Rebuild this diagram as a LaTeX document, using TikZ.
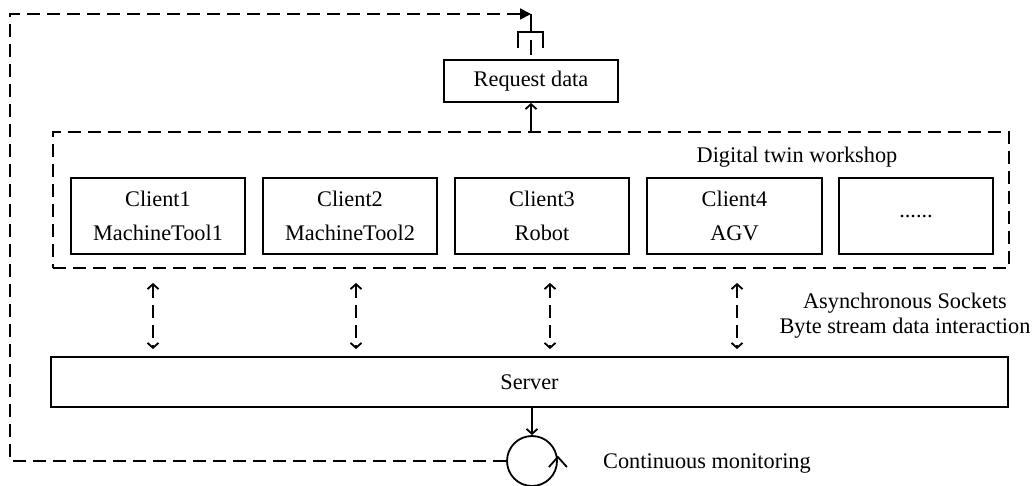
\documentclass[tikz,border=0pt]{standalone}
\usepackage{fontspec}
\setmainfont{Liberation Serif}
\usetikzlibrary{arrows.meta,calc}
\begin{document}
\begin{tikzpicture}[x=1pt,y=-1pt,
  lw/.style={line width=1.8pt},
  txt/.style={font=\fontsize{22.3}{34}\selectfont},
  box/.style={draw, lw, rectangle, inner sep=0pt, txt, align=center},
  dsh/.style={dash pattern=on 13pt off 7pt},
  chev/.style={-{Straight Barb[length=5pt,width=11pt]}},
  dbl/.style={{Straight Barb[length=5pt,width=11pt]}-{Straight Barb[length=5pt,width=11pt]}, lw, dsh},
  fb/.style={-{Triangle[length=11pt,width=11pt]}, lw, dsh}
]
\useasboundingbox (0,0) rectangle (1035,486);

% nodes
\node[box, minimum width=174pt, minimum height=42pt] (req) at (531,81) {Request data};
\node[draw, lw, dsh, rectangle, minimum width=956pt, minimum height=136pt, inner sep=0pt] (dtw) at (531,200) {};
\node[txt, anchor=base, inner sep=0pt] (dtwlbl) at (797,163) {Digital twin workshop};

\node[box, minimum width=174pt, minimum height=76pt] (c1) at (158,216) {Client1\\MachineTool1};
\node[box, minimum width=174pt, minimum height=76pt] (c2) at (350,216) {Client2\\MachineTool2};
\node[box, minimum width=174pt, minimum height=76pt] (c3) at (542,216) {Client3\\Robot};
\node[box, minimum width=175pt, minimum height=76pt] (c4) at (734.5,216) {Client4\\AGV};
\node[box, minimum width=154pt, minimum height=76pt] (c5) at (916,216) {......};

\node[box, minimum width=957pt, minimum height=50pt] (srv) at (529.5,382) {Server};
\node[font=\fontsize{22.3}{25}\selectfont, align=center, inner sep=0pt] (async) at (905,315.5) {Asynchronous Sockets\\Byte stream data interaction};

\node[draw, lw, circle, minimum size=50pt, inner sep=0pt] (mon) at (532,461) {};
\node[txt, anchor=base west, inner sep=0pt] (monlbl) at (603,468) {Continuous monitoring};

\coordinate (plugtop) at (531,14);

% connectors between clients and server
\draw[dbl, shorten <=14pt, shorten >=7pt] (153,0 |- dtw.south) -- (153,0 |- srv.north);
\draw[dbl, shorten <=14pt, shorten >=7pt] (356,0 |- dtw.south) -- (356,0 |- srv.north);
\draw[dbl, shorten <=14pt, shorten >=7pt] (550,0 |- dtw.south) -- (550,0 |- srv.north);
\draw[dbl, shorten <=14pt, shorten >=7pt] (737,0 |- dtw.south) -- (737,0 |- srv.north);

% workshop to request data
\draw[lw, chev] (req.south |- dtw.north) -- (req.south);

% server to monitoring
\draw[lw, chev] (mon.north |- srv.south) -- (mon.north);
% rotation mark on circle
\draw[lw] ($(mon.east)+(-9,6)$) -- ($(mon.east)+(0,-4)$) -- ($(mon.east)+(9,6)$);

% feedback loop
\draw[fb] (mon.west) -| (10,14) -- (plugtop);

% plug symbol above request data
\draw[lw] (plugtop) -- (531,32);
\draw[lw] (518,48) -- (518,32) -- (543,32) -- (543,48);
\draw[lw] (531,40) -- (531,55);
\end{tikzpicture}
\end{document}
